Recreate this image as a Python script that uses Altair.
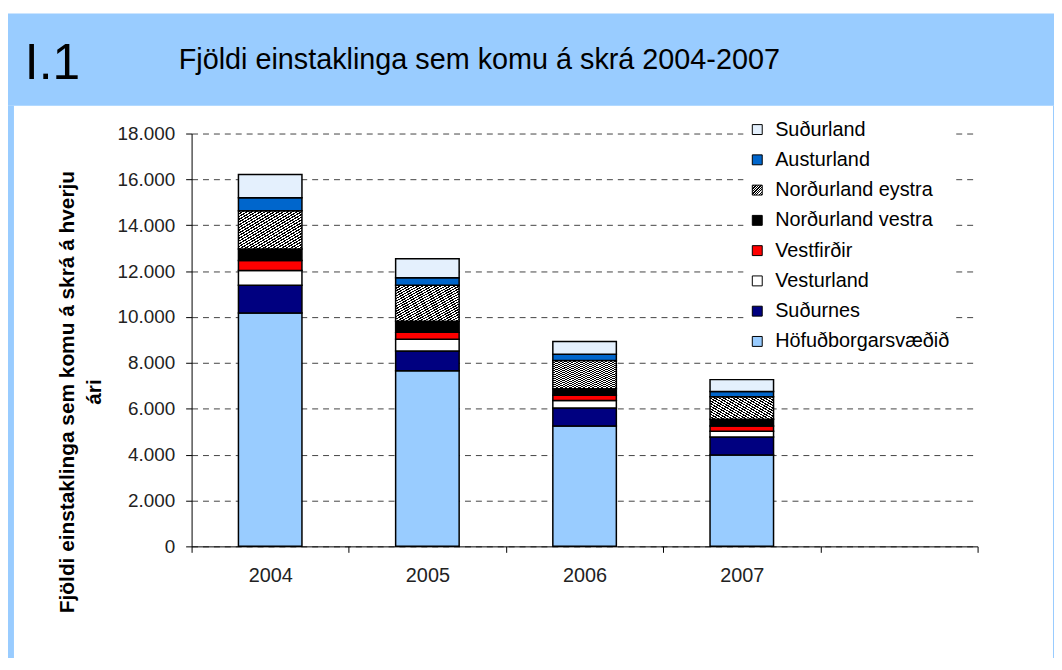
import altair as alt
import pandas as pd

# ---- data ----
years = ["2004", "2005", "2006", "2007"]
regions = ["Höfuðborgarsvæðið", "Suðurnes", "Vesturland", "Vestfirðir",
           "Norðurland vestra", "Norðurland eystra", "Austurland", "Suðurland"]
hofudborgarsvaedid = [10180, 7660, 5250, 3980]
sudurnes = [1200, 860, 780, 790]
vesturland = [650, 510, 330, 250]
vestfirdir = [430, 300, 230, 230]
nordurland_vestra = [510, 490, 280, 290]
nordurland_eystra = [1660, 1560, 1230, 980]
austurland = [570, 330, 280, 230]
sudurland = [1010, 830, 550, 520]
y_ticks = [0, 2000, 4000, 6000, 8000, 10000, 12000, 14000, 16000, 18000]

series = [hofudborgarsvaedid, sudurnes, vesturland, vestfirdir,
          nordurland_vestra, nordurland_eystra, austurland, sudurland]
rows = []
for order, (name, vals) in enumerate(zip(regions, series)):
    for yr, v in zip(years, vals):
        rows.append({"ar": yr, "svaedi": name, "fjoldi": v, "rod": order})
df = pd.DataFrame(rows)

# hatch for Norðurland eystra as a hard-stop linear gradient
n = 28
stops = []
for i in range(n):
    a, b, c = i / n, (i + 0.5) / n, (i + 1) / n
    stops += [f"{{offset:{a:.4f},color:'#000000'}}", f"{{offset:{b:.4f},color:'#000000'}}",
              f"{{offset:{b:.4f},color:'#ffffff'}}", f"{{offset:{c:.4f},color:'#ffffff'}}"]
hatch = "{gradient:'linear',x1:0,y1:0,x2:1,y2:1,stops:[" + ",".join(stops) + "]}"

legend_order = list(reversed(regions))
colors = {
    "Suðurland": "#E4F0FD",
    "Austurland": "#0066CC",
    "Norðurland eystra": alt.ExprRef(hatch),
    "Norðurland vestra": "#000000",
    "Vestfirðir": "#FF0000",
    "Vesturland": "#FFFFFF",
    "Suðurnes": "#000080",
    "Höfuðborgarsvæðið": "#99CCFF",
}
color_range = [colors[r] for r in legend_order]

FONT = "Liberation Sans"
BLUE = "#99CCFF"

bars = alt.Chart(df).mark_bar(size=64, stroke="black", strokeWidth=1.5).encode(
    x=alt.X("ar:N", scale=alt.Scale(domain=years + [" "], paddingInner=0, paddingOuter=0),
            axis=alt.Axis(title=None, tickBand="extent", tickSize=6, tickColor="black",
                          domainColor="black", labelAngle=0, labelFont=FONT, labelFontSize=20,
                          labelColor="#222222", labelPadding=13, grid=False)),
    y=alt.Y("fjoldi:Q", stack="zero", scale=alt.Scale(domain=[0, 18000], nice=False),
            axis=alt.Axis(values=y_ticks,
                          labelExpr="replace(format(datum.value, ',d'), ',', '.')",
                          tickSize=6, tickColor="black", domainColor="black",
                          labelFont=FONT, labelFontSize=19, labelColor="#222222",
                          labelPadding=11, grid=True, gridColor="#444444", gridDash=[6, 5],
                          title=["Fjöldi einstaklinga sem komu á skrá á hverju", "ári"],
                          titleFont=FONT, titleFontSize=21, titleFontWeight="bold",
                          titleColor="black", titleLineHeight=27, titleX=-115, titleY=260)),
    color=alt.Color("svaedi:N", scale=alt.Scale(domain=legend_order, range=color_range),
                    legend=alt.Legend(orient="none", legendX=556, legendY=-18, title=None,
                                      labelFont=FONT, labelFontSize=20, labelColor="black",
                                      labelLimit=400,
                                      symbolType="square", symbolSize=100,
                                      symbolStrokeColor="black", symbolStrokeWidth=1,
                                      symbolOpacity=1, rowPadding=10.5, labelOffset=8,
                                      fillColor="white", padding=4)),
    order=alt.Order("rod:Q", sort="ascending"),
)

one = pd.DataFrame({"k": [0]})
header = alt.Chart(one).mark_rect(color=BLUE).encode(
    x=alt.value(-185), x2=alt.value(869), y=alt.value(-121), y2=alt.value(-28))
left_strip = alt.Chart(one).mark_rect(color=BLUE).encode(
    x=alt.value(-185), x2=alt.value(-179), y=alt.value(-28), y2=alt.value(540))
right_strip = alt.Chart(one).mark_rect(color=BLUE).encode(
    x=alt.value(868), x2=alt.value(869), y=alt.value(-28), y2=alt.value(540))
num = alt.Chart(one).mark_text(text="I.1", font=FONT, fontSize=50, align="left",
                               baseline="alphabetic", color="black").encode(
    x=alt.value(-168), y=alt.value(-55))
title = alt.Chart(one).mark_text(text="Fjöldi einstaklinga sem komu á skrá 2004-2007",
                                 font=FONT, fontSize=29, align="left",
                                 baseline="alphabetic", color="black").encode(
    x=alt.value(-13), y=alt.value(-65))

chart = alt.layer(header, left_strip, right_strip, num, title, bars).properties(
    width=792, height=416,
    padding={"left": 185, "top": 124, "right": 77, "bottom": 110},
    autosize=alt.AutoSizeParams(type="none"),
    background="white",
).configure_view(stroke=None)

chart.save("out.html", embed_options={"renderer": "svg", "actions": False})
